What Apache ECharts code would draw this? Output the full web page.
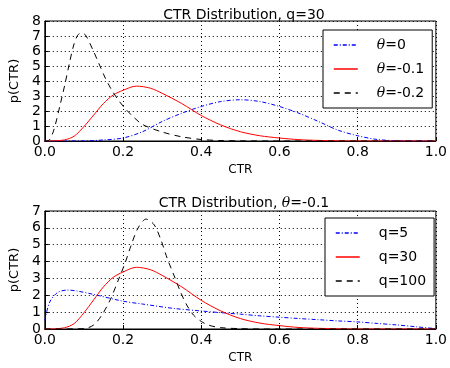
<!DOCTYPE html>
<html>
<head>
<meta charset="utf-8">
<script src="https://cdn.jsdelivr.net/npm/echarts@6/dist/echarts.min.js"></script>
<style>
  html, body { margin: 0; padding: 0; background: #fff; }
  #chart { width: 450px; height: 368px; }
</style>
</head>
<body>
<div id="chart"></div>
<script>
// top panel: q=30, varying theta
var topTheta0X = [0.0, 0.1, 0.15, 0.2, 0.25, 0.3, 0.35, 0.4, 0.45, 0.5, 0.55, 0.6, 0.65, 0.7, 0.75, 0.8, 0.85, 0.9, 0.95, 1.0];
var topTheta0Y = [0, 0.01, 0.07, 0.2, 0.62, 1.3, 1.85, 2.3, 2.63, 2.75, 2.63, 2.3, 1.85, 1.3, 0.72, 0.35, 0.1, 0.02, 0, 0];

var q30X = [0.0, 0.025, 0.05, 0.075, 0.1, 0.125, 0.15, 0.175, 0.2, 0.234, 0.27, 0.3, 0.35, 0.4, 0.45, 0.5, 0.55, 0.6, 0.65, 0.7, 0.8, 1.0];
var q30Y = [0, 0.01, 0.07, 0.32, 0.96, 1.73, 2.5, 3.07, 3.38, 3.66, 3.52, 3.18, 2.5, 1.7, 1.07, 0.62, 0.35, 0.2, 0.09, 0.04, 0, 0];

var topTheta2X = [0.0, 0.01, 0.023, 0.04, 0.052, 0.063, 0.074, 0.084, 0.094, 0.104, 0.125, 0.138, 0.155, 0.171, 0.188, 0.205, 0.226, 0.25, 0.3, 0.35, 0.4, 0.45, 0.5, 0.6, 1.0];
var topTheta2Y = [0, 0.03, 0.73, 2.5, 3.85, 5.2, 6.4, 7.05, 7.2, 7.07, 5.96, 5.18, 4.18, 3.4, 2.73, 2.18, 1.62, 1.1, 0.6, 0.28, 0.1, 0.03, 0.01, 0, 0];

// bottom panel: theta=-0.1, varying q
var q5X = [0.0, 0.0125, 0.033, 0.058, 0.083, 0.125, 0.2, 0.25, 0.33, 0.4, 0.45, 0.5, 0.55, 0.6, 0.65, 0.7, 0.75, 0.8, 0.85, 0.9, 0.95, 1.0];
var q5Y = [0.5, 1.6, 2.17, 2.31, 2.25, 2.05, 1.65, 1.48, 1.22, 1.07, 0.97, 0.88, 0.78, 0.7, 0.62, 0.55, 0.48, 0.42, 0.33, 0.24, 0.13, 0.02];

var q100X = [0.0, 0.1, 0.125, 0.146, 0.167, 0.188, 0.205, 0.221, 0.238, 0.259, 0.28, 0.297, 0.313, 0.33, 0.347, 0.363, 0.38, 0.4, 0.42, 0.45, 0.5, 0.55, 1.0];
var q100Y = [0, 0.02, 0.24, 0.83, 1.72, 2.9, 3.9, 4.98, 5.97, 6.52, 6.17, 5.28, 4.19, 3.2, 2.2, 1.42, 0.83, 0.45, 0.22, 0.08, 0.02, 0, 0];

function pairs(xs, ys) {
  var out = [];
  for (var i = 0; i < xs.length; i++) out.push([xs[i], ys[i]]);
  return out;
}

var font = 'DejaVu Sans';
var dashDot = [4, 2, 1, 2];
var dashed = [6, 5];

function xAx(gi) {
  return {
    type: 'value', gridIndex: gi, min: 0, max: 1, interval: 0.2,
    name: 'CTR', nameLocation: 'middle', nameGap: 23,
    nameTextStyle: { fontFamily: font, fontSize: 12, color: '#000' },
    axisLine: { show: true, onZero: false, lineStyle: { color: '#000' } },
    axisTick: { inside: true, length: 4, lineStyle: { color: '#000' } },
    axisLabel: { fontFamily: font, fontSize: 14, color: '#000', margin: 4,
      formatter: function (v) { return v.toFixed(1); } },
    splitLine: { show: true, lineStyle: { color: '#000', type: [1, 3], width: 1 } }
  };
}
function yAx(gi, max) {
  return {
    type: 'value', gridIndex: gi, min: 0, max: max, interval: 1,
    name: 'p(CTR)', nameLocation: 'middle', nameGap: 22,
    nameTextStyle: { fontFamily: font, fontSize: 13, color: '#000' },
    axisLine: { show: true, lineStyle: { color: '#000' } },
    axisTick: { inside: true, length: 4, lineStyle: { color: '#000' } },
    axisLabel: { fontFamily: font, fontSize: 14, color: '#000', margin: 4 },
    splitLine: { show: true, lineStyle: { color: '#000', type: [1, 3], width: 1 } }
  };
}
function line(name, data, color, type, xi) {
  return {
    name: name, type: 'line', xAxisIndex: xi, yAxisIndex: xi,
    data: data, symbol: 'none', showSymbol: false, smooth: 0.3,
    lineStyle: { color: color, width: 1, type: type },
    itemStyle: { color: color }
  };
}
var legendRich = {
  i: { fontFamily: 'DejaVu Serif', fontStyle: 'italic', fontSize: 14, color: '#000' },
  t: { fontFamily: font, fontSize: 14, color: '#000' }
};
function legendBox(left, top, w, h, names, fmt) {
  return {
    data: names, orient: 'vertical', left: left, top: top, width: w, height: h,
    itemWidth: 24, itemHeight: 10, itemGap: 10,
    itemStyle: { opacity: 0 },
    lineStyle: { width: 1.5 },
    padding: [8, 8, 8, 10], borderColor: '#000', borderWidth: 1, backgroundColor: '#fff',
    textStyle: { rich: legendRich, padding: [0, 0, 0, 14] },
    formatter: fmt
  };
}

var chart = echarts.init(document.getElementById('chart'));
chart.setOption({
  animation: false,
  title: [
    { text: 'CTR Distribution, q=30', left: 239, top: 3, textAlign: 'center',
      textStyle: { fontFamily: font, fontSize: 14, fontWeight: 'normal', color: '#000' } },
    { text: '{t|CTR Distribution, }{i|θ}{t|=-0.1}', left: 239, top: 191, textAlign: 'center',
      textStyle: { fontWeight: 'normal', rich: {
        t: { fontFamily: font, fontSize: 14, fontWeight: 'normal', color: '#000' },
        i: { fontFamily: 'DejaVu Serif', fontStyle: 'italic', fontWeight: 'normal', fontSize: 14, color: '#000' } } } }
  ],
  grid: [
    { left: 40, right: 11, top: 21, height: 120, show: true, borderColor: '#000', borderWidth: 1 },
    { left: 40, right: 11, top: 211, height: 118, show: true, borderColor: '#000', borderWidth: 1 }
  ],
  xAxis: [xAx(0), xAx(1)],
  yAxis: [yAx(0, 8), yAx(1, 7)],
  legend: [
    legendBox(323, 30, 110, 77, ['θ=0', 'θ=-0.1', 'θ=-0.2'], function (n) {
      return '{i|θ}{t|' + n.slice(1) + '}';
    }),
    legendBox(325, 218, 107, 72, ['q=5', 'q=30', 'q=100'], function (n) {
      return '{t|' + n + '}';
    })
  ],
  series: [
    line('θ=0', pairs(topTheta0X, topTheta0Y), '#0000ff', dashDot, 0),
    line('θ=-0.1', pairs(q30X, q30Y), '#ff0000', 'solid', 0),
    line('θ=-0.2', pairs(topTheta2X, topTheta2Y), '#000000', dashed, 0),
    line('q=5', pairs(q5X, q5Y), '#0000ff', dashDot, 1),
    line('q=30', pairs(q30X, q30Y), '#ff0000', 'solid', 1),
    line('q=100', pairs(q100X, q100Y), '#000000', dashed, 1)
  ]
});
</script>
</body>
</html>
